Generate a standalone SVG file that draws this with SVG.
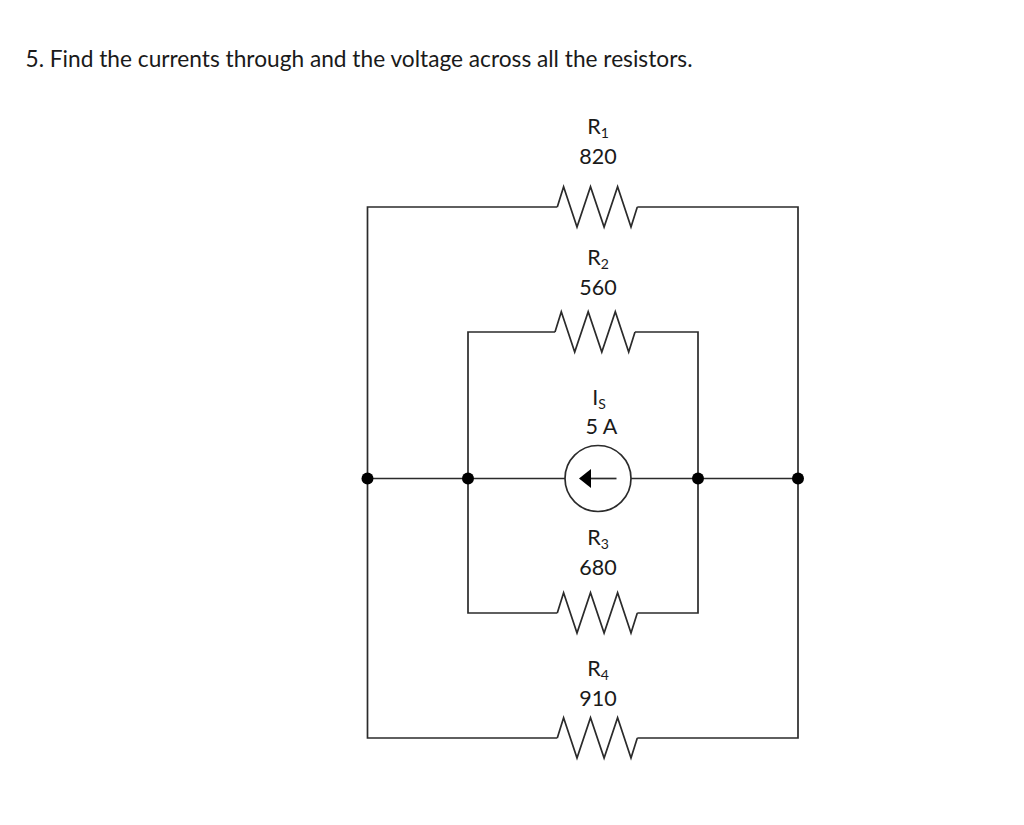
<svg xmlns="http://www.w3.org/2000/svg" xmlns:xlink="http://www.w3.org/1999/xlink" width="1024" height="825" viewBox="0 0 1024 825">
<style>
text{font-family:"Lato","Carlito","Open Sans",sans-serif;fill:#1a1a1a}
.t{font-size:22.700px}
.l{font-size:21.500px;text-anchor:middle}
.s{font-size:14px}
.w{fill:none;stroke:#2b2b2b;stroke-width:1.700}
.d{fill:#000}
</style>
<defs>
<path id="z" class="w" d="M-40 0L-33.700-20.300L-20.300 20L-6.800-20.300L6.800 20L20.300-20.300L33.700 20L40 0"/>
</defs>
<rect width="1024" height="825" fill="#fff"/>
<text id="title" class="t" x="25.500" y="67" textLength="667" lengthAdjust="spacing">5. Find the currents through and the voltage across all the resistors.</text>
<g id="connectors">
<path class="w" d="M557.300 207H367.500V738H557.300M637.300 207H798V738H637.300"/>
<path class="w" d="M555 332H468V613H557.300M635 332H698V613H637.300"/>
<path class="w" d="M367.500 478.500H565M631 478.500H798"/>
</g>
<g id="R1"><use xlink:href="#z" x="597.300" y="207"/><text class="l" x="598" y="134">R<tspan class="s" dy="4">1</tspan></text><text class="l" x="598" y="164">820</text></g>
<g id="R2"><use xlink:href="#z" x="595" y="332"/><text class="l" x="598" y="265">R<tspan class="s" dy="4">2</tspan></text><text class="l" x="598" y="295">560</text></g>
<g id="IS"><circle class="w" cx="598" cy="478.500" r="33" fill="#fff"/><path class="w" d="M616.500 478.500H590"/><path class="d" d="M579 478.500L591 469V488Z"/><text class="l" x="599" y="405">I<tspan class="s" dy="4">S</tspan></text><text class="l" x="601.500" y="434">5 A</text></g>
<g id="R3"><use xlink:href="#z" x="597.300" y="613"/><text class="l" x="598" y="545">R<tspan class="s" dy="4">3</tspan></text><text class="l" x="598" y="575">680</text></g>
<g id="R4"><use xlink:href="#z" x="597.300" y="738"/><text class="l" x="598" y="676">R<tspan class="s" dy="4">4</tspan></text><text class="l" x="598" y="706">910</text></g>
<g id="junctions"><circle class="d" cx="367.500" cy="478.500" r="6"/><circle class="d" cx="468" cy="478.500" r="6"/><circle class="d" cx="698" cy="478.500" r="6"/><circle class="d" cx="798" cy="478.500" r="6"/></g>
</svg>
